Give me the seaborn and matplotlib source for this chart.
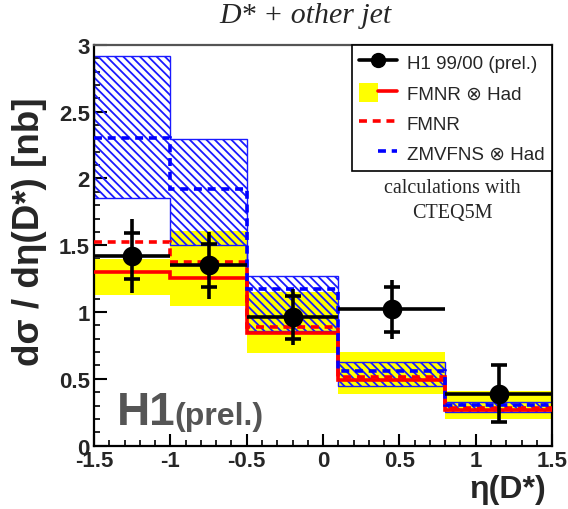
import numpy as np
import pandas as pd
import matplotlib
matplotlib.use("Agg")
import matplotlib.pyplot as plt
import seaborn as sns
from matplotlib.lines import Line2D
from matplotlib.patches import Patch
from matplotlib.legend_handler import HandlerTuple

# ---------------- data ----------------
edges = [-1.5, -1.0, -0.5, 0.1, 0.8, 1.5]
h1_xsec = [1.42, 1.35, 0.96, 1.02, 0.39]
h1_stat = [0.175, 0.16, 0.16, 0.17, 0.21]
h1_tot = [0.275, 0.25, 0.21, 0.22, 0.21]

fmnr_had = [1.30, 1.255, 0.84, 0.49, 0.265]
fmnr_had_lo = [1.13, 1.045, 0.69, 0.39, 0.20]
fmnr_had_hi = [1.40, 1.61, 1.15, 0.70, 0.41]
fmnr = [1.525, 1.375, 0.885, 0.51, 0.285]

zmvfns = [2.30, 1.92, 1.175, 0.555, 0.305]
zmvfns_lo = [1.855, 1.50, 0.855, 0.45, 0.25]
zmvfns_hi = [2.92, 2.295, 1.27, 0.625, 0.325]

x_ticks = [-1.5, -1, -0.5, 0, 0.5, 1, 1.5]
x_ticklabels = ["-1.5", "-1", "-0.5", "0", "0.5", "1", "1.5"]
y_ticks = [0, 0.5, 1, 1.5, 2, 2.5, 3]
y_ticklabels = ["0", "0.5", "1", "1.5", "2", "2.5", "3"]

# ---------------- style ----------------
sns.set_theme(style="ticks")
plt.rcParams["font.family"] = ["Liberation Sans", "DejaVu Sans"]
plt.rcParams["hatch.linewidth"] = 1.3
plt.rcParams["hatch.color"] = "#1a1aff"

fig = plt.figure(figsize=(5.68, 5.10), dpi=100)
ax = fig.add_axes([0.1655, 0.1243, 0.972 - 0.1655, 0.91 - 0.1243])

edges_a = np.array(edges)
centers = 0.5 * (edges_a[:-1] + edges_a[1:])
halfw = 0.5 * np.diff(edges_a)

df = pd.DataFrame({"eta": centers, "xsec": h1_xsec})

# FMNR x Had band (yellow)
ax.stairs(fmnr_had_hi, edges, baseline=fmnr_had_lo, fill=True,
          color="#ffff00", lw=0, zorder=1)
# ZMVFNS x Had band (blue hatched)
ax.stairs(zmvfns_hi, edges, baseline=zmvfns_lo, fill=True,
          facecolor="none", edgecolor="#1a1aff", hatch="\\\\\\\\", lw=1.0, zorder=2)
# central lines
ax.stairs(fmnr_had, edges, baseline=None, color="#ff0000", lw=2.6, zorder=3)
ax.stairs(fmnr, edges, baseline=None, color="#ff0000", lw=2.6,
          linestyle=(0, (2.2, 1.6)), zorder=3)
ax.stairs(zmvfns, edges, baseline=None, color="#0000ff", lw=2.6,
          linestyle=(0, (2.2, 1.6)), zorder=3)

# data
ax.errorbar(centers, h1_xsec, yerr=h1_tot, xerr=halfw, fmt="none",
            ecolor="black", elinewidth=2.6, capsize=0, zorder=5)
ax.errorbar(centers, h1_xsec, yerr=h1_stat, fmt="none", ecolor="black",
            elinewidth=0, capsize=5.5, capthick=2.6, zorder=5)
sns.scatterplot(data=df, x="eta", y="xsec", ax=ax, color="black", s=200,
                marker="o", edgecolor="black", linewidth=0, zorder=6, legend=False)

# axes
ax.set_xlim(-1.5, 1.5)
ax.set_ylim(0, 3)
ax.set_xticks(x_ticks)
ax.set_xticklabels(x_ticklabels)
ax.set_yticks(y_ticks)
ax.set_yticklabels(y_ticklabels)
ax.set_xticks(np.arange(-1.5, 1.51, 0.1), minor=True)
ax.set_yticks(np.arange(0, 3.01, 0.1), minor=True)
ax.tick_params(which="major", direction="in", length=9, width=1.5,
               labelsize=16, pad=3, top=False, right=False, color="black")
ax.tick_params(which="minor", direction="in", length=4.5, width=1.2,
               top=False, right=False, color="black")
for lab in ax.get_xticklabels() + ax.get_yticklabels():
    lab.set_fontweight("bold")
for s in ["left", "bottom", "right"]:
    ax.spines[s].set_color("black")
    ax.spines[s].set_linewidth(1.6)
ax.spines["top"].set_color("#555555")
ax.spines["top"].set_linewidth(1.6)
ax.set_xlabel("")
ax.set_ylabel("")

fig.text(0.052, 0.545, "dσ / dη(D*) [nb]", rotation=90, ha="center", va="center",
         fontsize=26.5, fontweight="bold")
fig.text(0.962, 0.04, "η(D*)", ha="right", va="center", fontsize=23,
         fontweight="bold")
fig.text(0.537, 0.968, "D* + other jet", ha="center", va="center",
         fontsize=21.5, style="italic", family="Liberation Serif")

ax.text(-1.347, 0.162, "H1", fontsize=33, fontweight="bold", color="#555555",
        va="baseline", ha="left")
ax.text(-0.975, 0.162, "(prel.)", fontsize=23, fontweight="bold", color="#555555",
        va="baseline", ha="left")

ax.text(0.845, 1.93, "calculations with", ha="center", va="center",
        fontsize=14.5, family="Liberation Serif")
ax.text(0.845, 1.745, "CTEQ5M", ha="center", va="center",
        fontsize=14.5, family="Liberation Serif")

# legend
h_data = Line2D([], [], color="black", lw=2.6, marker="o", markersize=10)
h_fh = (Patch(facecolor="#ffff00", edgecolor="none"),
        Line2D([], [], color="#ff0000", lw=2.6))
h_f = Line2D([], [], color="#ff0000", lw=2.6, linestyle=(0, (2.2, 1.6)))
h_z = (Patch(facecolor="none", edgecolor="none", hatch="\\\\\\\\"),
       Line2D([], [], color="#0000ff", lw=2.6, linestyle=(0, (2.2, 1.6))))
leg = ax.legend([h_data, h_fh, h_f, h_z],
                ["H1 99/00 (prel.)", "FMNR ⊗ Had", "FMNR", "ZMVFNS ⊗ Had"],
                handler_map={tuple: HandlerTuple(ndivide=None, pad=0)},
                loc="upper right", bbox_to_anchor=(1.0, 1.0), borderaxespad=0,
                fontsize=13.5, frameon=True, fancybox=False, framealpha=1,
                edgecolor="black", handlelength=2.0, handleheight=1.2,
                handletextpad=0.55, labelspacing=0.55, borderpad=0.4)
leg.get_frame().set_linewidth(1.2)

fig.savefig("out.png", dpi=100)
